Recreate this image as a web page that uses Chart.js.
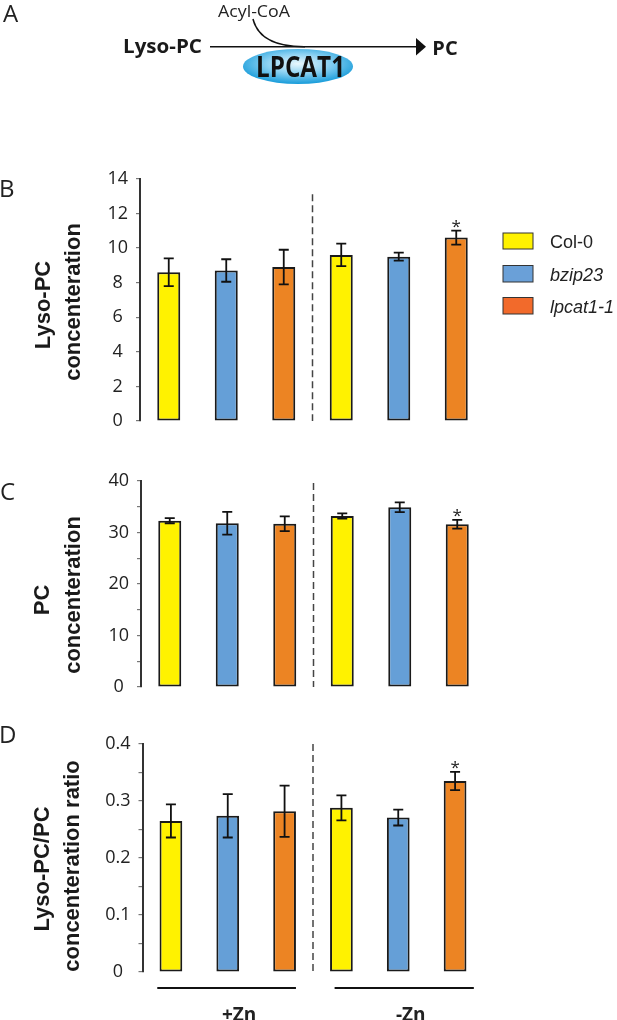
<!DOCTYPE html>
<html>
<head>
<meta charset="utf-8">
<script src="https://cdn.jsdelivr.net/npm/chart.js@4.4.1/dist/chart.umd.min.js"></script>
<style>
html, body { margin: 0; padding: 0; background: #fff; width: 617px; height: 1020px; overflow: hidden; }
#wrap { position: relative; width: 617px; height: 1020px; }
canvas { position: absolute; left: 0; }
#overlay { position: absolute; left: 0; top: 0; pointer-events: none; }
</style>
</head>
<body>
<div id="wrap">
  <canvas id="chartB" width="617" height="280" style="top:160px"></canvas>
  <canvas id="chartC" width="617" height="250" style="top:460px"></canvas>
  <canvas id="chartD" width="617" height="300" style="top:720px"></canvas>

  <svg id="overlay" width="617" height="1020" xmlns="http://www.w3.org/2000/svg">
    <defs>
      <radialGradient id="enzyme" cx="50%" cy="42%" r="60%">
        <stop offset="0" stop-color="#e8f7fd"/>
        <stop offset="0.45" stop-color="#8fd3f3"/>
        <stop offset="1" stop-color="#0f98d8"/>
      </radialGradient>
    </defs>

    <!-- panel letters -->
    <g font-family="Open Sans" font-size="24" fill="#222">
      <text x="3" y="22">A</text>
      <text x="-1" y="197">B</text>
      <text x="0" y="500">C</text>
      <text x="-1" y="743">D</text>
    </g>

    <!-- panel A: reaction scheme -->
    <ellipse cx="298" cy="66.5" rx="55" ry="17.5" fill="url(#enzyme)"/>
    <line x1="210" y1="46.7" x2="418" y2="46.7" stroke="#111" stroke-width="1.6"/>
    <polygon points="416,38 426,46.7 416,55.5" fill="#111"/>
    <path d="M253,19 Q260,47 305,46.7" fill="none" stroke="#111" stroke-width="1.6"/>
    <text x="254" y="17" font-family="Open Sans" font-size="17" text-anchor="middle" fill="#222" textLength="72" lengthAdjust="spacingAndGlyphs">Acyl-CoA</text>
    <text x="162.5" y="53" font-family="Open Sans" font-weight="bold" font-size="20" text-anchor="middle" fill="#1a1a1a" textLength="79" lengthAdjust="spacingAndGlyphs">Lyso-PC</text>
    <text x="445" y="55" font-family="Open Sans" font-weight="bold" font-size="20" text-anchor="middle" fill="#1a1a1a">PC</text>
    <text x="300.5" y="76.5" font-family="Open Sans" font-weight="bold" font-size="29" text-anchor="middle" fill="#111" textLength="89" lengthAdjust="spacingAndGlyphs">LPCAT1</text>

    <!-- legend -->
    <g stroke="#333" stroke-width="1">
      <rect x="503" y="233" width="30" height="16" fill="#FFF200"/>
      <rect x="503" y="265.5" width="30" height="16.5" fill="#6AA0D8"/>
      <rect x="503" y="297.5" width="30" height="16.5" fill="#F26A2B"/>
    </g>
    <g font-family="Liberation Sans, Arial" font-size="18" fill="#222">
      <text x="550" y="248">Col-0</text>
      <text x="550" y="280.5" font-style="italic">bzip23</text>
      <text x="550" y="312.5" font-style="italic">lpcat1-1</text>
    </g>

    <!-- y axis titles -->
    <g font-family="Liberation Sans, Arial" font-weight="bold" font-size="22" fill="#1a1a1a" text-anchor="middle">
      <text transform="translate(50,305) rotate(-90)">Lyso-PC</text>
      <text transform="translate(80,302) rotate(-90)">concenteration</text>
      <text transform="translate(49,600) rotate(-90)">PC</text>
      <text transform="translate(80,595) rotate(-90)">concenteration</text>
      <text transform="translate(49,869) rotate(-90)">Lyso-PC/PC</text>
      <text transform="translate(79,866) rotate(-90)">concenteration ratio</text>
    </g>
  </svg>
</div>

<script>
// categories: genotype x zinc treatment
const genotypes = ['Col-0', 'bzip23', 'lpcat1-1'];
const treatments = ['+Zn', '-Zn'];
const categories = ['Col-0 +Zn', 'bzip23 +Zn', 'lpcat1-1 +Zn', 'Col-0 -Zn', 'bzip23 -Zn', 'lpcat1-1 -Zn'];

// B: Lyso-PC concentration
const lysoPC = [8.6, 8.7, 8.9, 9.6, 9.5, 10.6];
const lysoPCErr = [0.8, 0.65, 1.0, 0.65, 0.23, 0.4];
const lysoTicks = [0, 2, 4, 6, 8, 10, 12, 14];

// C: PC concentration
const pc = [32.3, 31.8, 31.7, 33.2, 34.9, 31.6];
const pcErr = [0.5, 2.2, 1.45, 0.5, 0.95, 0.85];
const pcTicks = [0, 10, 20, 30, 40];

// D: Lyso-PC / PC ratio
const ratio = [0.265, 0.274, 0.282, 0.288, 0.271, 0.335];
const ratioErr = [0.029, 0.038, 0.045, 0.022, 0.014, 0.016];
const ratioTicks = [0, 0.1, 0.2, 0.3, 0.4];

// asterisk marks
const significant = [false, false, false, false, false, true];

const barColors = ['#FFF200', '#659FD7', '#EC8423', '#FFF200', '#659FD7', '#EC8423'];

function makePanel(id, values, errors, opts) {
    // error bars, dashed separator, stars and group lines
    const extras = {
        id: 'extras_' + id,
        afterDatasetsDraw(chart) {
            const ctx = chart.ctx;
            const x = chart.scales.x;
            const y = chart.scales.y;
            const meta = chart.getDatasetMeta(0);
            ctx.save();

            const dx = x.getPixelForValue(2.5);
            ctx.setLineDash([7, 4]);
            ctx.strokeStyle = '#444';
            ctx.lineWidth = 1.5;
            ctx.beginPath();
            ctx.moveTo(dx, y.getPixelForValue(opts.dashTop));
            ctx.lineTo(dx, y.getPixelForValue(0));
            ctx.stroke();
            ctx.setLineDash([]);

            ctx.strokeStyle = '#111';
            ctx.lineWidth = 1.8;
            ctx.fillStyle = '#222';
            ctx.font = '17px "Open Sans"';
            ctx.textAlign = 'center';
            ctx.textBaseline = 'alphabetic';
            values.forEach((v, i) => {
                const cx = meta.data[i].x;
                const hi = y.getPixelForValue(v + errors[i]);
                const lo = y.getPixelForValue(v - errors[i]);
                ctx.beginPath();
                ctx.moveTo(cx, hi); ctx.lineTo(cx, lo);
                ctx.moveTo(cx - 5, hi); ctx.lineTo(cx + 5, hi);
                ctx.moveTo(cx - 5, lo); ctx.lineTo(cx + 5, lo);
                ctx.stroke();
                if (significant[i]) {
                    ctx.fillText('*', cx, hi + 1);
                }
            });

            if (opts.groups) {
                const base = chart.chartArea.bottom;
                ctx.lineWidth = 2;
                ctx.font = 'bold 19px "Open Sans"';
                opts.groups.forEach((g, k) => {
                    ctx.beginPath();
                    ctx.moveTo(x.getPixelForValue(g[0]), base + 16);
                    ctx.lineTo(x.getPixelForValue(g[1]), base + 16);
                    ctx.stroke();
                    ctx.fillText(treatments[k], x.getPixelForValue(g[2]), base + 49);
                });
            }
            ctx.restore();
        }
    };

    return new Chart(document.getElementById(id), {
        type: 'bar',
        data: {
            labels: categories,
            datasets: [{
                data: values,
                backgroundColor: barColors,
                borderColor: '#1a1a1a',
                borderWidth: 2,
                borderSkipped: false,
                barPercentage: 0.4,
                categoryPercentage: 1
            }]
        },
        options: {
            responsive: false,
            animation: false,
            events: [],
            layout: { padding: opts.padding },
            plugins: { legend: { display: false }, tooltip: { enabled: false } },
            scales: {
                x: { display: false },
                y: {
                    min: 0,
                    max: opts.max,
                    afterFit(scale) { scale.width = 60; },
                    border: { display: true, color: '#333', width: 2 },
                    grid: { drawOnChartArea: false, drawTicks: true, tickLength: 4, color: '#777', lineWidth: 1.2 },
                    ticks: {
                        stepSize: opts.step,
                        padding: 8,
                        crossAlign: 'center',
                        color: '#222',
                        font: { family: 'Open Sans', size: 18 },
                        callback(v) {
                            const hit = opts.labels.find(t => Math.abs(t - v) < 1e-9);
                            return hit === undefined ? '' : String(hit);
                        }
                    }
                }
            }
        },
        plugins: [extras]
    });
}

makePanel('chartB', lysoPC, lysoPCErr, {
    max: 14, step: 2, labels: lysoTicks, dashTop: 13.1,
    padding: { top: 17, bottom: 19, left: 80, right: 132 }
});
makePanel('chartC', pc, pcErr, {
    max: 40, step: 5, labels: pcTicks, dashTop: 39.6,
    padding: { top: 21, bottom: 23, left: 81, right: 131 }
});
makePanel('chartD', ratio, ratioErr, {
    max: 0.4, step: 0.05, labels: ratioTicks, dashTop: 0.4,
    padding: { top: 24, bottom: 48, left: 82.5, right: 133.5 },
    groups: [[-0.24, 2.2, 1.2], [2.88, 5.33, 4.22]]
});
</script>
</body>
</html>
